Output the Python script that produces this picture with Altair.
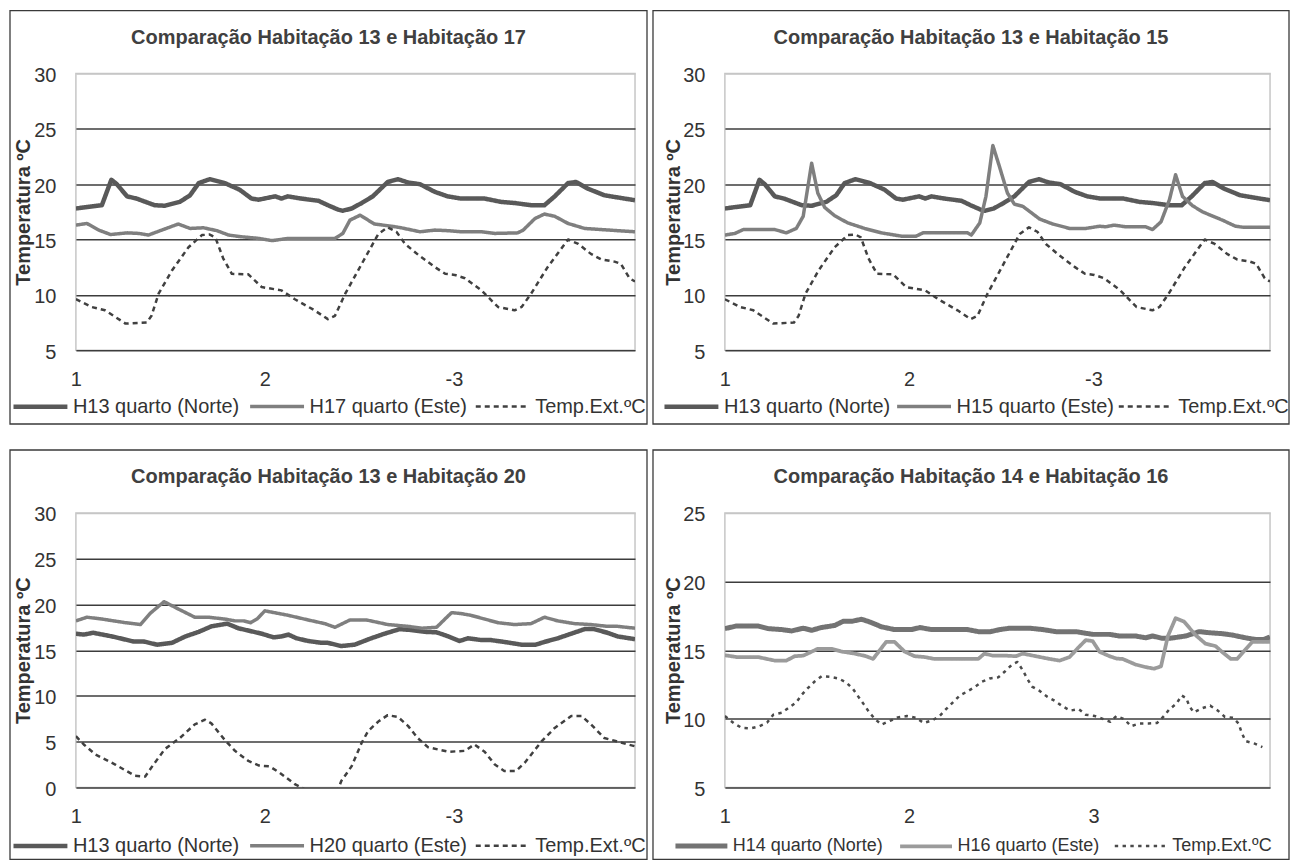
import altair as alt
import pandas as pd

FONT = "Liberation Sans, Arial, sans-serif"
TXT = "#333333"

# hour index (0 = start of day 1) and temperature (ºC)
HORAS_ROTULO = [0, 24, 48]

H13_A = [(0, 17.8), (1, 17.9), (3.3, 18.1), (4.5, 20.4), (5.2, 20.0), (6.5, 18.9), (7.7, 18.7),
         (10, 18.1), (11.3, 18.05), (13.2, 18.4), (14.5, 19.0), (15.6, 20.1), (17, 20.45),
         (18.9, 20.1), (20.8, 19.5), (22.3, 18.7), (23.2, 18.6), (25.3, 18.9), (26.1, 18.7),
         (26.9, 18.9), (28.6, 18.7), (30.8, 18.5), (32, 18.1), (33.3, 17.7), (33.9, 17.6),
         (35, 17.8), (36.3, 18.3), (37.7, 18.9), (39.6, 20.2), (40.9, 20.45), (42.2, 20.15),
         (43.7, 20.0), (45.6, 19.3), (47.2, 18.9), (48.9, 18.7), (51.9, 18.7), (54, 18.4),
         (55.7, 18.3), (57.8, 18.1), (59.5, 18.1), (60.8, 18.9), (62.5, 20.1), (63.5, 20.2),
         (65, 19.6), (67.1, 19.0), (68.8, 18.8), (71, 18.55)]

H17 = [(0, 16.3), (1.4, 16.45), (2.9, 15.85), (4.4, 15.45), (6.5, 15.6), (8, 15.55), (9.2, 15.4),
       (10.9, 15.85), (13, 16.4), (14.5, 16.0), (16.2, 16.06), (17.9, 15.8), (19.4, 15.4),
       (21, 15.25), (23.2, 15.1), (24.9, 14.9), (27, 15.1), (30.3, 15.1), (32.9, 15.1),
       (33.9, 15.55), (34.8, 16.75), (36.1, 17.2), (37.9, 16.4), (40.1, 16.2), (41.3, 16.06),
       (43.7, 15.7), (45.6, 15.85), (47.2, 15.8), (48.9, 15.7), (51.5, 15.7), (53.2, 15.55),
       (56.1, 15.6), (56.8, 15.85), (58.3, 16.9), (59.5, 17.3), (60.8, 17.1), (62.5, 16.45),
       (64.6, 16.0), (66.7, 15.9), (68.8, 15.8), (71, 15.7)]

H15 = [(0, 15.4), (1.3, 15.55), (2.4, 15.9), (6.5, 15.9), (8, 15.6), (9.3, 16.0), (10.2, 17.1),
       (11.3, 21.9), (12.1, 19.2), (13, 17.9), (14.3, 17.15), (16, 16.5), (18.2, 16.0),
       (20.4, 15.6), (23, 15.3), (24.9, 15.3), (25.8, 15.6), (31.6, 15.6), (32.1, 15.4),
       (33.2, 16.5), (34, 18.9), (34.9, 23.5), (35.8, 21.5), (36.8, 19.2), (37.7, 18.2),
       (38.8, 18.0), (41, 16.85), (42.7, 16.4), (44.9, 16.0), (47, 16.0), (48.8, 16.2),
       (49.6, 16.15), (50.7, 16.3), (52.2, 16.15), (54.8, 16.15), (55.7, 15.9), (56.8, 16.6),
       (57.9, 18.6), (58.7, 20.85), (59.6, 18.9), (60.9, 18.06), (62.2, 17.5), (64.8, 16.75),
       (66.5, 16.2), (67.6, 16.1), (71, 16.1)]

TEMP_A = [(0, 9.6), (2, 8.9), (3.7, 8.6), (6.3, 7.4), (9, 7.5), (9.6, 8.1), (10.5, 10.1),
          (12.2, 12.2), (14.3, 14.3), (16, 15.4), (17, 15.45), (17.7, 15.2), (18.7, 13.3),
          (19.8, 11.9), (21.9, 11.85), (23.6, 10.7), (26.1, 10.4), (27.8, 9.6), (30.3, 8.6),
          (32, 7.8), (32.9, 8.1), (34.2, 10.1), (36.3, 12.8), (38.4, 15.5), (39.6, 16.1),
          (40.7, 15.7), (41.8, 14.6), (43.5, 13.6), (45.6, 12.5), (46.9, 11.9), (48.1, 11.8),
          (49.4, 11.5), (51.5, 10.4), (53.6, 8.9), (55.7, 8.6), (56.6, 8.9), (57.8, 10.1),
          (59.9, 12.5), (62.5, 15.0), (63.8, 14.6), (65.4, 13.7), (66.7, 13.2), (68.4, 13.0),
          (69.2, 12.8), (70.3, 11.5), (71, 11.2)]

H13_C = [(0, 16.8), (1, 16.7), (2.2, 16.9), (4.6, 16.5), (7.3, 15.95), (8.6, 15.95), (10.3, 15.6),
         (12.2, 15.8), (13.9, 16.5), (15.6, 17.0), (17.2, 17.6), (19.2, 17.9), (20.6, 17.4),
         (23.6, 16.8), (25.1, 16.4), (26.1, 16.5), (27, 16.7), (28, 16.3), (29.5, 16.0),
         (31.2, 15.8), (32, 15.8), (33.7, 15.45), (35.4, 15.6), (37.5, 16.3), (39.2, 16.8),
         (41.1, 17.3), (42.6, 17.2), (44.3, 17.0), (45.8, 16.95), (47.3, 16.5), (48.7, 16.0),
         (49.8, 16.3), (51.5, 16.1), (52.7, 16.1), (54.4, 15.9), (56.6, 15.6), (58.4, 15.6),
         (59.5, 15.9), (61.2, 16.3), (62.9, 16.8), (64.6, 17.3), (65.8, 17.3), (67.5, 16.9),
         (68.8, 16.5), (71, 16.2)]

H20 = [(0, 18.2), (1.4, 18.6), (3.3, 18.4), (6.3, 18.0), (7.3, 17.9), (8.2, 17.8), (9.4, 19.0),
       (11.2, 20.3), (13, 19.5), (15.1, 18.6), (16.8, 18.6), (18.9, 18.4), (20.2, 18.2),
       (21.3, 18.2), (22.2, 18.0), (23, 18.4), (24, 19.3), (27, 18.8), (29.5, 18.3),
       (31.6, 17.9), (32.9, 17.5), (34.8, 18.3), (36.9, 18.3), (39.6, 17.8), (42.2, 17.6),
       (43.9, 17.4), (45.8, 17.5), (47.7, 19.1), (48.9, 19.0), (50.2, 18.8), (51.9, 18.4),
       (53.6, 18.0), (55.7, 17.8), (57.8, 17.9), (59.5, 18.6), (61.2, 18.2), (63.3, 17.9),
       (65.4, 17.8), (67.5, 17.6), (68.8, 17.6), (71, 17.4)]

TEMP_C = [(0, 5.6), (1, 4.7), (2.5, 3.6), (5, 2.5), (7.5, 1.27), (8.8, 1.2), (9.85, 2.5),
          (11.3, 4.2), (13.2, 5.4), (15.1, 6.9), (16.4, 7.4), (17.2, 7.0), (18.9, 5.2),
          (20.2, 4.0), (21.9, 2.9), (23.2, 2.4), (24.6, 2.3), (25.9, 1.6), (27.8, 0.36),
          (29.3, -0.3), (30.5, -0.8), (32.5, -0.8), (33.3, -0.2), (33.7, 0.7), (35, 2.3),
          (36.3, 4.9), (37.1, 6.15), (38.4, 7.2), (39.6, 7.9), (40.9, 7.7), (42.2, 6.7),
          (43.4, 5.4), (44.7, 4.4), (47.3, 3.9), (49.4, 4.0), (50.6, 4.7), (51.9, 3.9),
          (53.2, 2.5), (54.4, 1.8), (55.9, 1.8), (57, 2.7), (59.1, 5.0), (60.8, 6.5),
          (62.9, 7.8), (64.2, 7.8), (65.4, 6.9), (67.1, 5.4), (68.4, 5.1), (70.1, 4.7), (71, 4.5)]

H14 = [(0, 16.57), (1.5, 16.76), (4.3, 16.76), (5.6, 16.57), (7.4, 16.5), (8.7, 16.4), (10.2, 16.6),
       (11.3, 16.45), (12.6, 16.65), (14.3, 16.8), (15.4, 17.1), (16.5, 17.1), (17.8, 17.25),
       (18.9, 17.05), (20.4, 16.7), (22.1, 16.5), (24.3, 16.5), (25.4, 16.65), (26.9, 16.5),
       (31.6, 16.5), (33, 16.35), (34.6, 16.35), (35.8, 16.5), (37.1, 16.6), (39.7, 16.6),
       (41.4, 16.5), (43.1, 16.35), (45.7, 16.35), (47.9, 16.15), (50.1, 16.15), (51.4, 16.03),
       (53.5, 16.03), (54.8, 15.9), (55.7, 16.03), (57, 15.86), (57.9, 15.86), (60, 16.03),
       (61.8, 16.35), (63.1, 16.27), (64.8, 16.2), (66.1, 16.1), (67.8, 15.9), (69.1, 15.78),
       (70.2, 15.78), (71, 15.96)]

H16 = [(0, 14.63), (1.5, 14.5), (4.3, 14.5), (6.5, 14.24), (8, 14.24), (9.1, 14.56), (10.2, 14.6),
       (12.1, 15.1), (13.9, 15.1), (15.2, 14.9), (16.9, 14.75), (18.4, 14.56), (19.3, 14.36),
       (21, 15.6), (22.1, 15.6), (23.4, 14.9), (24.7, 14.56), (26, 14.5), (27.3, 14.36),
       (33, 14.36), (33.8, 14.75), (34.9, 14.6), (36.6, 14.6), (37.9, 14.56), (38.8, 14.75),
       (40.5, 14.56), (42.3, 14.36), (43.6, 14.24), (44.9, 14.5), (46, 15.17), (47, 15.73),
       (47.9, 15.66), (48.8, 14.88), (50.1, 14.56), (51, 14.39), (51.8, 14.36), (53.5, 13.95),
       (54.8, 13.77), (55.9, 13.65), (56.8, 13.82), (57.7, 16.03), (58.7, 17.33), (59.8, 17.08),
       (61.3, 16.1), (62.6, 15.47), (63.9, 15.3), (64.8, 14.85), (65.9, 14.36), (66.7, 14.36),
       (67.8, 15.05), (68.7, 15.6), (71, 15.6)]

TEMP_D = [(0, 10.2), (1.2, 9.66), (2.2, 9.34), (3.3, 9.3), (4.5, 9.46), (5.5, 9.73), (6.3, 10.3),
          (7.4, 10.44), (8.3, 10.8), (9.3, 11.2), (10, 11.74), (10.8, 12.23), (11.7, 12.72),
          (12.6, 13.1), (13.7, 13.06), (14.8, 12.94), (15.8, 12.65), (16.7, 12.16), (17.4, 11.6),
          (18.1, 11.05), (18.8, 10.47), (19.6, 9.95), (20.4, 9.58), (21.5, 9.85), (22.5, 10.1),
          (23.7, 10.2), (24.9, 10.07), (25.9, 9.7), (27, 9.88), (28, 10.22), (28.8, 10.7),
          (29.7, 11.2), (30.6, 11.7), (31.4, 11.94), (32.5, 12.3), (33.5, 12.7), (34.5, 12.94),
          (35.6, 13.02), (36.5, 13.46), (37.4, 13.95), (38.1, 14.14), (38.8, 13.53), (39.4, 12.9),
          (40, 12.35), (41, 12.03), (42, 11.6), (43, 11.3), (44, 10.9), (45, 10.6), (46.1, 10.7),
          (47, 10.3), (48.2, 10.2), (49.3, 9.98), (50.2, 9.78), (51, 10.2), (52, 9.98),
          (52.9, 9.46), (54, 9.66), (55.2, 9.66), (56.3, 9.7), (57.1, 10.15), (57.9, 10.7),
          (58.8, 11.1), (59.5, 11.7), (60.1, 11.5), (60.5, 10.9), (61.1, 10.47), (62.1, 10.76),
          (63.2, 10.96), (64.2, 10.6), (65.1, 10.15), (66.2, 10.07), (66.9, 9.66), (67.3, 9.0),
          (67.8, 8.38), (69, 8.19), (70, 7.94)]

NOMES_1 = ["H13 quarto (Norte)", "H17 quarto (Este)", "Temp.Ext.ºC"]
NOMES_2 = ["H13 quarto (Norte)", "H15 quarto (Este)", "Temp.Ext.ºC"]
NOMES_3 = ["H13 quarto (Norte)", "H20 quarto (Este)", "Temp.Ext.ºC"]
NOMES_4 = ["H14 quarto (Norte)", "H16 quarto (Este)", "Temp.Ext.ºC"]

TITULOS = ["Comparação Habitação 13 e Habitação 17",
           "Comparação Habitação 13 e Habitação 15",
           "Comparação Habitação 13 e Habitação 20",
           "Comparação Habitação 14 e Habitação 16"]

CORES_ABC = ["#595959", "#7f7f7f", "#404040"]
LARG_ABC = [4.5, 2.5, 1.0]
TRACO_ABC = [[1, 0], [1, 0], [5, 4]]
CORES_D = ["#737373", "#9b9b9b", "#4a4a4a"]
LARG_D = [5, 2.5, 3.6]
TRACO_D = [[1, 0], [1, 0], [3.4, 4.4]]

LEG_Y = 323


def painel(titulo, nomes, series, cores, larguras, tracos, ydom, yvals, rot3,
           w, h, ml, mr, mt, mb, leg_x, leg_font, leg_len, leg_pad, tit_x):
    linhas = []
    for nome, serie in zip(nomes, series):
        for hora, valor in serie:
            linhas.append({"hora": hora, "temp": valor, "serie": nome})
    df = pd.DataFrame(linhas)
    topo = ydom[1]
    # legend line symbol drawn as a path (units are 8 px for symbolSize 256)
    fim = 9.0 / 8.0
    inicio = fim - leg_len / 8.0
    simbolo = f"M{inicio:.3f},0H{fim:.3f}"
    leg = alt.Legend(title=None, orient="none", legendX=leg_x, legendY=LEG_Y,
                     direction="horizontal", columns=3, symbolType=simbolo,
                     symbolSize=256, labelFont=FONT, labelFontSize=leg_font,
                     labelColor=TXT, labelLimit=400, labelOffset=4,
                     columnPadding=leg_pad, padding=0)
    eixo_x = alt.Axis(values=HORAS_ROTULO,
                      labelExpr=f"datum.value === 48 ? '{rot3}' : format(datum.value / 24 + 1, 'd')",
                      grid=False, domain=False, ticks=False, tickSize=0, labelPadding=19,
                      labelFont=FONT, labelFontSize=20, labelColor=TXT, labelFlush=False,
                      labelOverlap=False, title=None)
    eixo_y = alt.Axis(values=yvals, title="Temperatura ºC", grid=True,
                      gridColor={"condition": {"test": f"datum.value === {topo}", "value": "#c6c6c6"},
                                 "value": "#3c3c3c"},
                      gridWidth=1.5, domain=False, ticks=False, tickSize=0, labelPadding=20,
                      labelFont=FONT, labelFontSize=20, labelColor=TXT, labelOffset=2,
                      titleFont=FONT, titleFontSize=20, titleFontWeight="bold", titleColor=TXT,
                      titleX=tit_x, titleBaseline="middle")
    base = alt.Chart(df).mark_line(clip=True, strokeJoin="round").encode(
        x=alt.X("hora:Q", scale=alt.Scale(domain=[0, 71], nice=False, zero=False), axis=eixo_x),
        y=alt.Y("temp:Q", scale=alt.Scale(domain=ydom, nice=False, zero=False), axis=eixo_y),
        color=alt.Color("serie:N", scale=alt.Scale(domain=nomes, range=cores), legend=leg),
        strokeWidth=alt.StrokeWidth("serie:N", scale=alt.Scale(domain=nomes, range=larguras), legend=leg),
        strokeDash=alt.StrokeDash("serie:N", scale=alt.Scale(domain=nomes, range=tracos), legend=leg),
    )
    um = pd.DataFrame({"k": [0]})
    moldura = alt.Chart(um).mark_rect(
        filled=False, stroke="#3a3a3a", strokeWidth=1.3
    ).encode(
        x=alt.value(-ml), x2=alt.value(w + mr), y=alt.value(-mt), y2=alt.value(h + mb)
    )
    cabecalho = alt.Chart(um).mark_text(
        font=FONT, fontSize=20, fontWeight="bold", color="#404040", align="center", baseline="middle"
    ).encode(
        x=alt.value((w + mr - ml) / 2), y=alt.value(-36), text=alt.value(titulo)
    )
    return alt.layer(base, moldura, cabecalho).properties(width=w, height=h)


p1 = painel(TITULOS[0], NOMES_1, [H13_A, H17, TEMP_A], CORES_ABC, LARG_ABC, TRACO_ABC,
            [5, 30], [5, 10, 15, 20, 25, 30], "-3", 560, 277, 66, 12, 63, 74, -28, 20, 54, 3, -52)
p2 = painel(TITULOS[1], NOMES_2, [H13_A, H15, TEMP_A], CORES_ABC, LARG_ABC, TRACO_ABC,
            [5, 30], [5, 10, 15, 20, 25, 30], "-3", 546, 277, 72, 19, 63, 74, -26, 20, 54, -1, -51)
p3 = painel(TITULOS[2], NOMES_3, [H13_C, H20, TEMP_C], CORES_ABC, LARG_ABC, TRACO_ABC,
            [0, 30], [0, 5, 10, 15, 20, 25, 30], "-3", 560, 275, 66, 12, 63, 72, -28, 20, 54, 3, -52)
p4 = painel(TITULOS[3], NOMES_4, [H14, H16, TEMP_D], CORES_D, LARG_D, TRACO_D,
            [5, 25], [5, 10, 15, 20, 25], "3", 546, 275, 72, 19, 63, 72, -17, 18, 52, 9, -51)

chart = alt.concat(
    p1, p2, p3, p4, columns=2, spacing={"row": 163, "column": 90}, bounds="flush", padding=0
).resolve_scale(
    x="independent", y="independent", color="independent",
    strokeWidth="independent", strokeDash="independent"
).resolve_legend(
    color="independent", strokeWidth="independent", strokeDash="independent"
).configure_view(stroke="#c6c6c6", strokeWidth=1.5)

chart.save("out.html", embed_options={"renderer": "svg", "actions": False})
